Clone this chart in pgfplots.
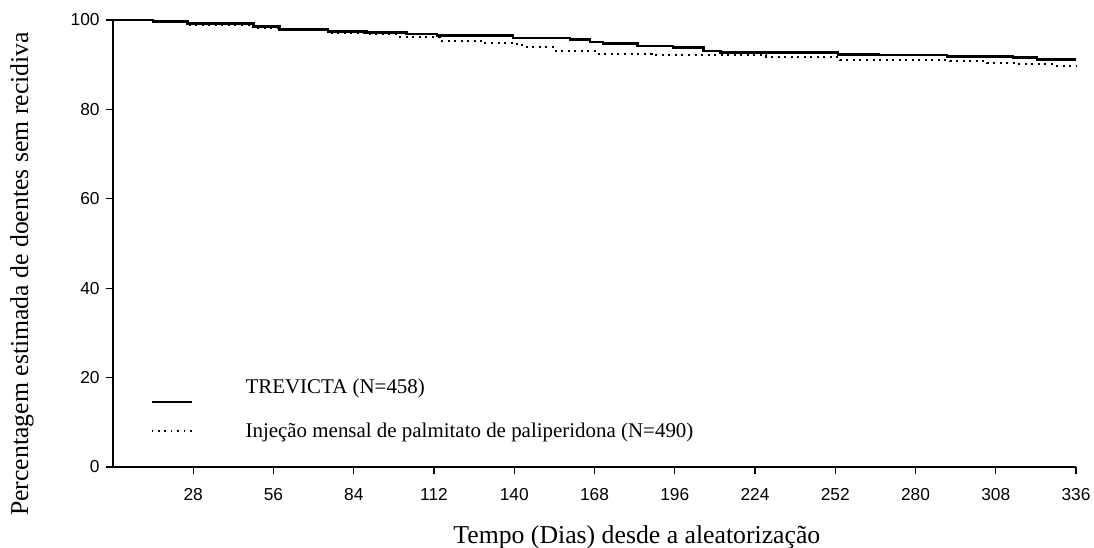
\documentclass[border=0pt]{standalone}
\usepackage{fontspec}
\setmainfont{Liberation Serif}
\newfontfamily\arialfont{Liberation Sans}
\usepackage{pgfplots}
\pgfplotsset{compat=1.18}
\begin{document}
\begin{tikzpicture}
\begin{axis}[
  scale only axis,
  width=722.25pt, height=335.25pt,
  xmin=0, xmax=336, ymin=0, ymax=100,
  axis lines=left,
  axis line style={line width=1.3pt, -},
  xtick={28,56,...,336},
  ytick={0,20,...,100},
  tick align=outside,
  major tick length=5.5pt,
  tick style={line width=1pt, black},
  /pgf/number format/assume math mode=true,
  tick label style={font=\arialfont\fontsize{13}{15}\selectfont, black},
  xticklabel style={yshift=-7pt},
  yticklabel style={xshift=-1pt},
  xlabel={Tempo (Dias) desde a aleatorização},
  ylabel={Percentagem estimada de doentes sem recidiva},
  label style={font=\fontsize{19.3}{22}\selectfont},
  xlabel style={at={(axis description cs:0.544,0)}, anchor=center, yshift=-52.5pt},
  ylabel style={at={(axis description cs:-0.0945,0.432)}, anchor=center},
  legend style={draw=none, fill=none, at={(axis description cs:0.0384,0.203)}, anchor=north west,
    font=\fontsize{15.7}{18}\selectfont, row sep=12.5pt, inner sep=0pt},
  legend cell align=left,
  clip=false,
]
\addplot[const plot, black, line width=2pt,
  legend image code/.code={\draw[black, line width=2pt] (0pt,-11pt) -- (30pt,-11pt); \path (0pt,0pt) (67.5pt,0pt);}]
  coordinates {
  (0,100) (14,99.6) (26,99.25) (49,98.5) (58,97.9) (75,97.4) (88.5,97.2) (102.5,96.9)
  (113,96.5) (139.6,96.0) (159.5,95.7) (166.4,95.1) (171,94.8) (183,94.2) (195.4,93.8)
  (206,93.1) (212,92.8) (219,92.7) (253,92.3) (267,92.2) (291,91.8) (314,91.6) (322.4,91.1) (336,91.1)
};
\addlegendentry{TREVICTA (N=458)}
\addplot[const plot, black, line width=1.5pt, dash pattern=on 1.5pt off 3.4pt,
  legend image code/.code={\draw[black, line width=1.2pt, dash pattern=on 1.2pt off 3.6pt] (0pt,0pt) -- (30pt,0pt); \path (0pt,0pt) (67.5pt,0pt);}]
  coordinates {
  (14,99.7) (26,98.9) (49,98.1) (58,97.9) (75,97.0) (88.5,96.8) (100,96.3)
  (114,95.4) (129,94.9) (141,94.4) (144.5,93.9) (153.5,93.1) (169,92.5) (188,92.2)
  (228,91.8) (253.7,91.1) (292,90.8) (305,90.3) (315.4,90.1) (329,89.8) (336,89.8)
};
\addlegendentry{Injeção mensal de palmitato de paliperidona (N=490)}
\end{axis}
\pgfresetboundingbox
\path[use as bounding box] ([shift={(-84.75pt,-60pt)}]current axis.south west) rectangle ([shift={(13.5pt,15pt)}]current axis.north east);
\end{tikzpicture}
\end{document}
